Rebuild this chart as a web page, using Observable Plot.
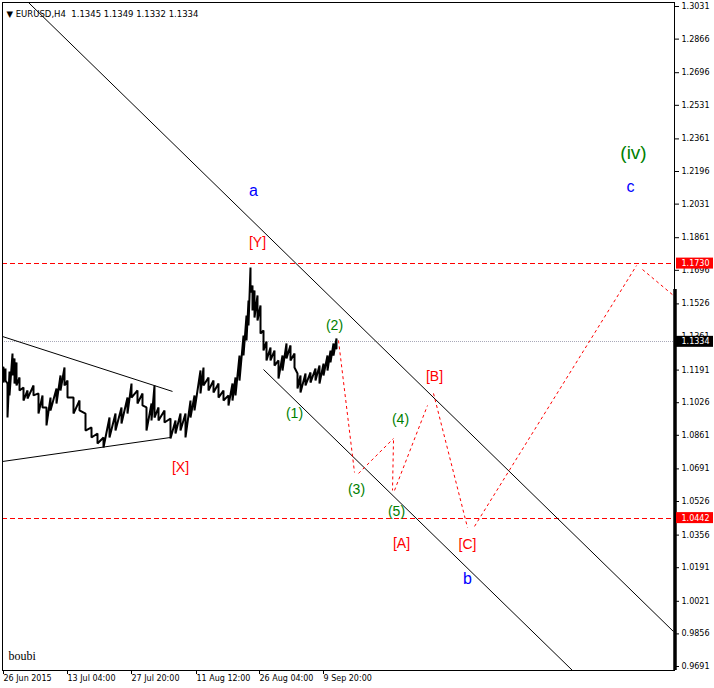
<!DOCTYPE html>
<html><head><meta charset="utf-8">
<script src="https://cdn.jsdelivr.net/npm/d3@7"></script>
<script src="https://cdn.jsdelivr.net/npm/@observablehq/plot@0.6"></script>
<style>body{margin:0;background:#fff}</style>
</head><body><div id="chart"></div>
<script>
// ---------- data ----------
const symbolTitle = "\u25BC EURUSD,H4  1.1345 1.1349 1.1332 1.1334";
const author = "boubi";

const priceTicks = [1.3031,1.2866,1.2696,1.2531,1.2361,1.2196,1.2031,1.1861,1.1696,1.1526,1.1361,
  1.1191,1.1026,1.0861,1.0691,1.0526,1.0356,1.0191,1.0021,0.9856,0.9691];
const dateTickBars = [0,64,128,193,256,320];
const dateTickLabels = ["26 Jun 2015","13 Jul 04:00","27 Jul 20:00","11 Aug 12:00","26 Aug 04:00","9 Sep 20:00"];

const barIndex = [0,2,4,6,9,11,13,16,20,24,30,35,39,43,47,53,57,61,64,70,76,82,88,94,100,106,112,118,124,128,
  134,139,143,148,151,155,161,167,172,177,182,187,191,197,200,205,210,215,220,225,229,232,236,240,243,245,247,249,251,254,
  257,260,263,267,271,275,279,283,287,291,294,297,302,307,312,316,320,324,327,330,333];
const barHigh = [1.1204,1.1199,1.1123,1.1184,1.1275,1.1250,1.1230,1.1154,1.1103,1.1088,1.1113,1.1073,1.1063,1.1002,1.1052,
  1.1098,1.1164,1.1204,1.1138,1.1052,1.1037,1.0971,1.0901,1.0870,1.0850,1.0951,1.0971,1.1002,1.1052,1.1123,
  1.1088,1.1073,1.1002,1.1022,1.1113,1.1002,1.0987,1.0946,1.0936,1.0971,1.0971,1.1037,1.1063,1.1189,1.1204,
  1.1154,1.1138,1.1123,1.1088,1.1063,1.1123,1.1154,1.1265,1.1366,1.1467,1.1543,1.1710,1.1619,1.1594,1.1569,
  1.1518,1.1391,1.1336,1.1305,1.1290,1.1240,1.1265,1.1326,1.1316,1.1275,1.1174,1.1164,1.1174,1.1179,1.1199,
  1.1214,1.1224,1.1265,1.1290,1.1326,1.1351];
const barLow = [1.1128,1.1138,1.0951,1.1063,1.1164,1.1123,1.1113,1.1088,1.1037,1.1047,1.1063,1.0971,1.1002,1.0911,1.0987,
  1.1022,1.1088,1.1113,1.1052,1.0971,1.0987,1.0885,1.0850,1.0820,1.0799,1.0850,1.0885,1.0921,1.0971,1.1052,
  1.1022,1.1012,1.0885,1.0936,1.0951,1.0936,1.0926,1.0845,1.0870,1.0885,1.0850,1.0951,1.0987,1.1073,1.1113,
  1.1088,1.1078,1.1052,1.1037,1.1012,1.1037,1.1063,1.1138,1.1265,1.1341,1.1417,1.1584,1.1493,1.1457,1.1442,
  1.1376,1.1290,1.1240,1.1240,1.1214,1.1148,1.1189,1.1250,1.1240,1.1204,1.1098,1.1078,1.1113,1.1128,1.1138,
  1.1123,1.1164,1.1189,1.1230,1.1265,1.1300];

const levelLines = [1.1730, 1.0442];
const bidPrice = 1.1334;

// trend lines: [bar1, price1, bar2, price2]
const trendLines = [
  [25, 1.3051, 670, 0.9868],   // channel upper
  [260, 1.1194, 569, 0.96708], // channel lower
  [-1, 1.1361, 169, 1.1083],   // triangle upper
  [-1, 1.07285, 167, 1.0850]   // triangle lower
];
// projected path segments (red dotted)
const projection = [
  [335, 1.1341, 351, 1.0673],
  [355, 1.0668, 390, 1.0845],
  [390, 1.0835, 389, 1.0582],
  [391, 1.0582, 424, 1.1012],
  [430, 1.1073, 464, 1.0394],
  [471, 1.0400, 633, 1.1720],
  [639, 1.1700, 670, 1.15685]
];

const redLabels = [["[Y]",254,1.1837],["[X]",177,1.0698],["[A]",398,1.0314],["[B]",431,1.1159],["[C]",464,1.0309]];
const greenLabels = [["(1)",291,1.0971],["(2)",331,1.1417],["(3)",353,1.0587],["(4)",397,1.0941],["(5)",393,1.0475]];
const bigGreenLabels = [["(iv)",630,1.2292]];
const blueLabels = [["a",250,1.2100],["b",464,1.0136],["c",627,1.2120]];

// ---------- build ----------
// price path visits each sample's high then low, giving the jagged bar-chart look
const pricePath = barIndex.flatMap((b,i)=>[{bar:b, price:barHigh[i]}, {bar:b, price:barLow[i]}]);
const tl = trendLines.map(([x1,y1,x2,y2])=>({x1,y1,x2,y2}));
const pr = projection.map(([x1,y1,x2,y2])=>({x1,y1,x2,y2}));
const lab = arr => arr.map(([t,x,y])=>({t,x,y}));
const dateLabel = new Map(dateTickBars.map((b,i)=>[b,dateTickLabels[i]]));

const yDomain = [0.96708, 1.30513];
const pxPerPrice = 668/(yDomain[1]-yDomain[0]);
const hh = 5.5/pxPerPrice;
const font = "Liberation Sans, Arial, sans-serif";

const chart = Plot.plot({
  width: 714, height: 688,
  marginLeft: 2, marginRight: 40, marginTop: 2, marginBottom: 18,
  x: {domain: [-1, 671], axis: null},
  y: {domain: yDomain, axis: null},
  style: {fontFamily: "DejaVu Sans, sans-serif", fontSize: "8px", background: "white", color: "black"},
  marks: [
    Plot.ruleY(levelLines, {stroke: "#ff0000", strokeDasharray: "5,3", shapeRendering: "crispEdges"}),
    Plot.ruleY([bidPrice], {stroke: "#a8a8b8", strokeDasharray: "1,1", shapeRendering: "crispEdges"}),
    Plot.link(tl, {x1:"x1", y1:"y1", x2:"x2", y2:"y2", stroke: "black", strokeWidth: 1}),
    Plot.link(pr, {x1:"x1", y1:"y1", x2:"x2", y2:"y2", stroke: "#ff0000", strokeDasharray: "3,3"}),
    Plot.line(pricePath, {x:"bar", y:"price", stroke:"black", strokeWidth:2, curve:"linear", strokeLinejoin:"miter"}),
    Plot.frame({stroke: "black", shapeRendering: "crispEdges"}),
    Plot.ruleX([671.5], {y1: 1.1599, y2: yDomain[0], stroke: "black", strokeWidth: 3.5}),
    Plot.axisY(priceTicks, {anchor: "right", tickFormat: d => d.toFixed(4), tickSize: 4, tickPadding: 3, fontSize: 8}),
    Plot.axisX(dateTickBars, {anchor: "bottom", tickFormat: d => dateLabel.get(d), tickSize: 4, tickPadding: 1, textAnchor: "start", fontSize: 8}),
    Plot.rect(levelLines, {x1: 673, x2: 710, y1: d => d - hh, y2: d => d + hh, fill: "#ff0000"}),
    Plot.rect([bidPrice], {x1: 673, x2: 710, y1: d => d - hh, y2: d => d + hh, fill: "black"}),
    Plot.text(levelLines.concat([bidPrice]), {x: 678, y: d => d, text: d => d.toFixed(4), fill: "white", textAnchor: "start", fontSize: 8}),
    Plot.text(lab(redLabels), {x:"x", y:"y", text:"t", fill:"#ff0000", fontSize: 14, fontFamily: font}),
    Plot.text(lab(greenLabels), {x:"x", y:"y", text:"t", fill:"#008000", fontSize: 14, fontFamily: font}),
    Plot.text(lab(bigGreenLabels), {x:"x", y:"y", text:"t", fill:"#008000", fontSize: 19, fontFamily: font}),
    Plot.text(lab(blueLabels), {x:"x", y:"y", text:"t", fill:"#0000ff", fontSize: 16, fontFamily: font}),
    Plot.text([symbolTitle], {frameAnchor: "top-left", dx: 4, dy: 8, textAnchor: "start", fontSize: 8.5}),
    Plot.text([author], {frameAnchor: "bottom-left", dx: 6, dy: -11, textAnchor: "start", fontSize: 12, fontFamily: "Liberation Serif, serif"})
  ]
});
document.getElementById("chart").appendChild(chart);
</script>
</body></html>
